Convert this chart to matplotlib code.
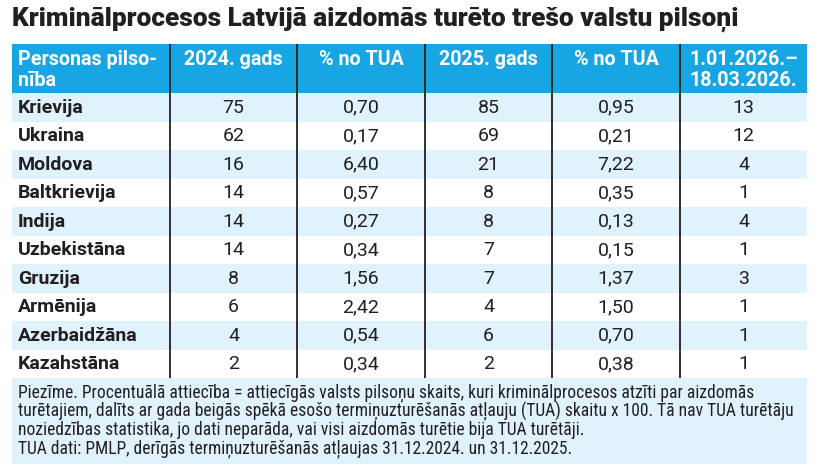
import matplotlib
matplotlib.use('Agg')
import matplotlib.pyplot as plt
from matplotlib import font_manager

# table data
countries = ['Krievija', 'Ukraina', 'Moldova', 'Baltkrievija', 'Indija',
             'Uzbekistāna', 'Gruzija', 'Armēnija', 'Azerbaidžāna', 'Kazahstāna']
cases_2024 = [75, 62, 16, 14, 14, 14, 8, 6, 4, 2]
pct_2024 = [0.70, 0.17, 6.40, 0.57, 0.27, 0.34, 1.56, 2.42, 0.54, 0.34]
cases_2025 = [85, 69, 21, 8, 8, 7, 7, 4, 6, 2]
pct_2025 = [0.95, 0.21, 7.22, 0.35, 0.13, 0.15, 1.37, 1.50, 0.70, 0.38]
cases_2026 = [13, 12, 4, 1, 4, 1, 3, 1, 1, 1]

headers = ['Personas pilso-\nnība', '2024. gads', '% no TUA',
           '2025. gads', '% no TUA', '1.01.2026.–\n18.03.2026.']

title = 'Kriminālprocesos Latvijā aizdomās turēto trešo valstu pilsoņi'
notes = [
    'Piezīme. Procentuālā attiecība = attiecīgās valsts pilsoņu skaits, kuri kriminālprocesos atzīti par aizdomās',
    'turētajiem, dalīts ar gada beigās spēkā esošo termiņuzturēšanās atļauju (TUA) skaitu x 100. Tā nav TUA turētāju',
    'noziedzības statistika, jo dati neparāda, vai visi aizdomās turētie bija TUA turētāji.',
    'TUA dati: PMLP, derīgās termiņuzturēšanās atļaujas 31.12.2024. un 31.12.2025.',
]

# colours
HEAD_BLUE = '#17a6e3'
ROW_BLUE = '#e0f2fc'
DARK = '#231f20'

# pick fonts
installed = {f.name for f in font_manager.fontManager.ttflist}
main_font = 'Roboto' if 'Roboto' in installed else 'DejaVu Sans'
narrow_font = main_font
for cand in ['Roboto Condensed', 'Liberation Sans Narrow']:
    if cand in installed:
        narrow_font = cand
        break


def fmt(v):
    return f'{v:.2f}'.replace('.', ',')


fig = plt.figure(figsize=(8.2, 4.72), dpi=100)
ax = fig.add_axes([0, 0, 1, 1])
ax.set_xlim(0, 820)
ax.set_ylim(472, 0)
ax.axis('off')
renderer = fig.canvas.get_renderer()


def fit_size(txt, target_w, family, weight, start):
    t = ax.text(0, 0, txt, fontsize=start, family=family, fontweight=weight)
    w = t.get_window_extent(renderer).width
    t.remove()
    return start * target_w / w


# layout (pixels)
col_edges = [12, 170, 297, 425, 552, 680, 807]
head_top, head_bot = 44, 93
row_h = 28.5
n = len(countries)
table_bot = head_bot + n * row_h

# title
ts = fit_size(title, 726, main_font, 'black', 17)
ax.text(12, 19, title, fontsize=ts, family=main_font, fontweight='black',
        color=DARK, va='center', ha='left')

# header
ax.add_patch(plt.Rectangle((col_edges[0], head_top), col_edges[-1] - col_edges[0],
                           head_bot - head_top, color=HEAD_BLUE, lw=0))
for j, h in enumerate(headers):
    if j == 0:
        x, ha = col_edges[0] + 6, 'left'
    else:
        x, ha = (col_edges[j] + col_edges[j + 1]) / 2, 'center'
    ax.text(x, 50, h, fontsize=14.2, family=main_font, fontweight='bold',
            color='white', ha=ha, va='top', linespacing=1.12)

# rows
for i in range(n):
    y0 = head_bot + i * row_h
    if i % 2 == 0:
        ax.add_patch(plt.Rectangle((col_edges[0], y0), col_edges[-1] - col_edges[0],
                                   row_h, color=ROW_BLUE, lw=0))
    yc = y0 + row_h / 2 + 0.5
    ax.text(col_edges[0] + 6, yc, countries[i], fontsize=14, family=main_font,
            fontweight='bold', color=DARK, va='center', ha='left')
    vals = [str(cases_2024[i]), fmt(pct_2024[i]), str(cases_2025[i]),
            fmt(pct_2025[i]), str(cases_2026[i])]
    for j, v in enumerate(vals):
        xc = (col_edges[j + 1] + col_edges[j + 2]) / 2
        ax.text(xc, yc, v, fontsize=14, family=main_font, color=DARK,
                va='center', ha='center')

# column dividers
for x in col_edges[1:-1]:
    ax.plot([x, x], [head_top, table_bot], color=DARK, lw=1.3, solid_capstyle='butt')

# note box
note_bot = 464
ax.add_patch(plt.Rectangle((col_edges[0], table_bot), col_edges[-1] - col_edges[0],
                           note_bot - table_bot, color=ROW_BLUE, lw=0))
ns = fit_size(notes[1], 772, narrow_font, 'normal', 11)
for k, line in enumerate(notes):
    ax.text(col_edges[0] + 6, 393 + k * 18.4, line, fontsize=ns, family=narrow_font,
            color=DARK, va='center', ha='left')

fig.savefig('out.png', dpi=100)
